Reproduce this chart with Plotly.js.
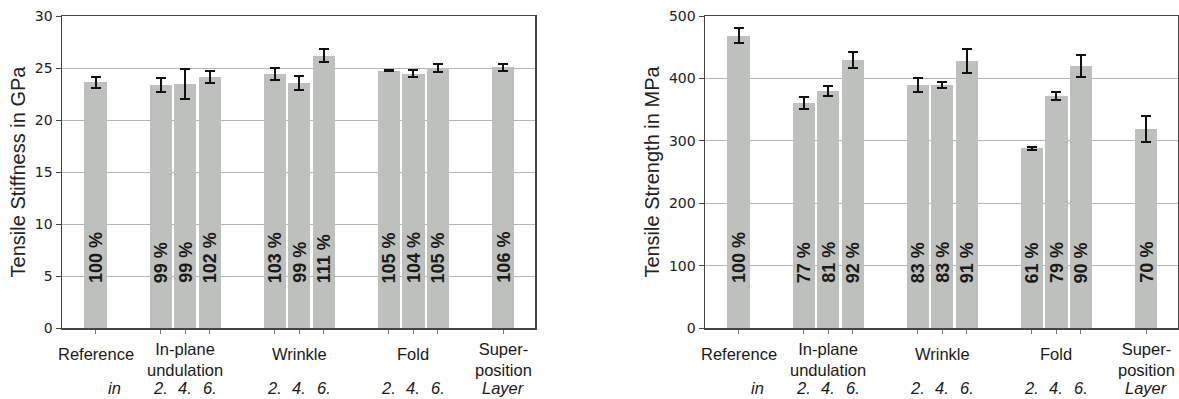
<!DOCTYPE html>
<html>
<head>
<meta charset="utf-8">
<script src="https://cdn.plot.ly/plotly-3.0.1.min.js"></script>
<style>html,body{margin:0;padding:0;background:#fff;}#chart{width:1179px;height:399px;}</style>
</head>
<body>
<div id="chart"></div>
<script>
// ---- data ----
const groupNames = ['Reference', 'In-plane<br>undulation', 'Wrinkle', 'Fold', 'Super-<br>position'];
const barGroup = [0, 1, 1, 1, 2, 2, 2, 3, 3, 3, 4];
const layerLabels = ['', '2.', '4.', '6.', '2.', '4.', '6.', '2.', '4.', '6.', 'Layer'];
const layerPrefix = 'in';

const stiffness = [23.62, 23.38, 23.48, 24.12, 24.44, 23.54, 26.17, 24.72, 24.47, 24.98, 25.05];
const stiffnessErr = [0.52, 0.7, 1.45, 0.6, 0.58, 0.67, 0.62, 0.05, 0.3, 0.37, 0.3];
const stiffnessPct = ['100 %', '99 %', '99 %', '102 %', '103 %', '99 %', '111 %', '105 %', '104 %', '105 %', '106 %'];

const strength = [468.5, 360, 379.3, 429.5, 389.4, 389.4, 427.9, 287.8, 371.7, 419.9, 318.5];
const strengthErr = [11.5, 9.6, 8, 13.4, 10.6, 4.8, 19, 2, 7, 17, 20.6];
const strengthPct = ['100 %', '77 %', '81 %', '92 %', '83 %', '83 %', '91 %', '61 %', '79 %', '90 %', '70 %'];

// ---- layout helpers ----
const GROUP_CENTERS = [0, 3.66, 8.31, 12.97, 16.63];
const xPos = [];
(function () {
  const counts = {};
  barGroup.forEach(g => counts[g] = (counts[g] || 0) + 1);
  const seen = {};
  barGroup.forEach(g => {
    const i = seen[g] || 0; seen[g] = i + 1;
    xPos.push(GROUP_CENTERS[g] + (i - (counts[g] - 1) / 2));
  });
})();

const BAR_COLOR = '#bec0bd';
const TXT = '#1a1a1a';
const SANS = 'Arial, "Liberation Sans", sans-serif';
const TICKF = '"DejaVu Sans", sans-serif';
const XRANGE = [-1.37, 17.93];

function barTrace(y, err, xa, ya) {
  return {
    type: 'bar', x: xPos, y: y, xaxis: xa, yaxis: ya, width: 0.905,
    marker: {color: BAR_COLOR, line: {width: 0}},
    error_y: {type: 'data', array: err, visible: true, color: '#111', thickness: 2, width: 5},
    hoverinfo: 'skip', showlegend: false
  };
}

const data = [
  barTrace(stiffness, stiffnessErr, 'x', 'y'),
  barTrace(strength, strengthErr, 'x2', 'y2')
];

const annotations = [];
function addAnnotations(xref, pct) {
  const PCT_Y = 1 - 285 / 399;
  pct.forEach((t, i) => {
    annotations.push({xref: xref, yref: 'paper', x: xPos[i], y: PCT_Y, text: t, textangle: -90,
      showarrow: false, xanchor: 'center', yanchor: 'bottom',
      font: {family: SANS, size: 18, weight: 'bold', color: TXT}});
  });
  groupNames.forEach((g, gi) => {
    const twoLine = g.indexOf('<br>') >= 0;
    annotations.push({xref: xref, yref: 'paper', x: GROUP_CENTERS[gi], y: 1 - (twoLine ? 359 : 354) / 399, text: g,
      showarrow: false, xanchor: 'center', yanchor: 'middle', align: 'center',
      font: {family: SANS, size: 16.5, color: TXT}});
  });
  layerLabels.forEach((t, i) => {
    if (!t) return;
    annotations.push({xref: xref, yref: 'paper', x: xPos[i], y: 0, text: t,
      showarrow: false, xanchor: 'center', yanchor: 'bottom',
      font: {family: SANS, size: 16.5, style: 'italic', color: TXT}});
  });
  annotations.push({xref: xref, yref: 'paper', x: xPos[0] + 0.76, y: 0, text: layerPrefix,
    showarrow: false, xanchor: 'center', yanchor: 'bottom',
    font: {family: SANS, size: 16.5, style: 'italic', color: TXT}});
}
addAnnotations('x', stiffnessPct);
addAnnotations('x2', strengthPct);

const yDomain = [1 - 328 / 399, 1 - 16 / 399];
function xAxis(dom) {
  return {domain: dom, range: XRANGE, tickvals: xPos, ticktext: xPos.map(() => ''),
    ticks: 'outside', ticklen: 4, tickcolor: '#777', tickwidth: 1,
    showline: true, mirror: true, linecolor: '#444', linewidth: 1.5,
    showgrid: false, zeroline: false, fixedrange: true};
}
function yAxis(range, dtick, title, anchor) {
  return {domain: yDomain, range: range, dtick: dtick, anchor: anchor,
    ticks: 'outside', ticklen: 5, tickcolor: '#444', tickwidth: 1,
    tickfont: {family: TICKF, size: 14, color: '#222'},
    showline: true, mirror: true, linecolor: '#444', linewidth: 1.5,
    showgrid: true, gridcolor: '#b5b5b5', gridwidth: 1, zeroline: false,
    title: {text: title, font: {family: SANS, size: 20, color: '#222'}, standoff: 4},
    fixedrange: true};
}

const layout = {
  width: 1179, height: 399,
  margin: {l: 0, r: 0, t: 0, b: 0},
  paper_bgcolor: '#fff', plot_bgcolor: '#fff',
  bargap: 0,
  xaxis: Object.assign(xAxis([62 / 1179, 535 / 1179]), {anchor: 'y'}),
  yaxis: yAxis([0, 30], 5, 'Tensile Stiffness in GPa', 'x'),
  xaxis2: Object.assign(xAxis([705 / 1179, 1178 / 1179]), {anchor: 'y2'}),
  yaxis2: yAxis([0, 500], 100, 'Tensile Strength in MPa', 'x2'),
  annotations: annotations
};

Plotly.newPlot('chart', data, layout, {displayModeBar: false, staticPlot: true});
</script>
</body>
</html>
